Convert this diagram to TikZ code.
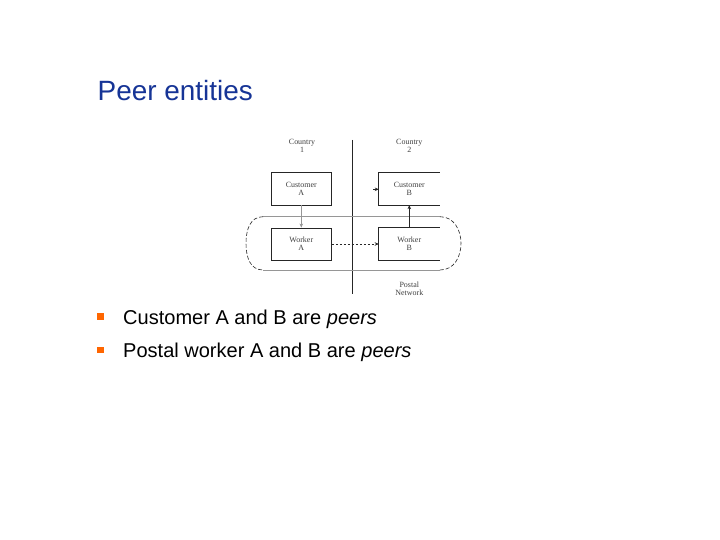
\documentclass[tikz,border=0pt]{standalone}
\usepackage{fontspec}
\setmainfont{Liberation Sans}
\newfontfamily\diagfont{Liberation Serif}
\usetikzlibrary{arrows.meta}
\definecolor{titleblue}{RGB}{22,52,150}
\definecolor{bulletorange}{RGB}{255,102,0}
\definecolor{lgray}{RGB}{150,150,150}
\begin{document}
\begin{tikzpicture}[x=1bp,y=-1bp,
  box/.style={minimum width=60.7bp, minimum height=32.3bp, inner sep=0, font=\diagfont\fontsize{8}{8}\selectfont, align=center, text=black!75},
  boxline/.style={line width=0.6bp, draw=black!85},
  lbl/.style={inner sep=0, font=\diagfont\fontsize{8}{6.5}\selectfont, align=center, text=black!75},
  arr/.style={-{Stealth[length=4bp,width=3.5bp]}, line width=0.6bp},
  bulletsq/.style={fill=bulletorange, minimum size=6.5bp, inner sep=0},
  bodytext/.style={anchor=base west, inner sep=0, font=\fontsize{20.1}{24}\selectfont}]
\useasboundingbox (0,0) rectangle (720,540);
\fill[white] (0,0) rectangle (720,540);
\node[anchor=base west, inner sep=0, text=titleblue, font=\fontsize{28}{33}\selectfont] (title) at (97.5,101) {Peer entities};
% diagram
\coordinate (vtop) at (352.7,140);
\coordinate (vbot) at (352.7,294);
\draw[line width=0.6bp, black!85] (vtop) -- (vbot);
\node[lbl] (c1) at (302,146) {Country\\1};
\node[lbl] (c2) at (409.3,146) {Country\\2};
\node[lbl, font=\diagfont\fontsize{8}{8}\selectfont] (pn) at (409.3,289) {Postal\\Network};
% stadium
\draw[line width=0.6bp, lgray] (263,216.7) -- (440,216.7) (263,270) -- (440,270);
\draw[line width=0.6bp, black!85, dash pattern=on 4bp off 2bp]
  (263,216.7) .. controls (250,216.7) and (246,230) .. (246,243.3)
  .. controls (246,257) and (250,270) .. (263,270);
\draw[line width=0.6bp, black!85, dash pattern=on 4bp off 2bp]
  (440,216.7) .. controls (454,216.7) and (461,230) .. (461,243.3)
  .. controls (461,257) and (454,270) .. (440,270);
% boxes
\node[box, draw, boxline, fill=white] (custA) at (301.3,188.8) {Customer\\A};
\node[box, draw, boxline, fill=white] (workA) at (301.3,244) {Worker\\A};
\node[box, fill=white] (custB) at (409.3,188.8) {Customer\\B};
\node[box, fill=white] (workB) at (409.3,244) {Worker\\B};
\draw[boxline] (custB.north east) -- (custB.north west) -- (custB.south west) -- (custB.south east);
\draw[boxline] (workB.north east) -- (workB.north west) -- (workB.south west) -- (workB.south east);
% arrows
\draw[arr, lgray] (custA) -- (workA);
\draw[arr, black!85, dash pattern=on 2.5bp off 1.5bp] (workA) -- (workB);
\draw[arr, black!85] (workB) -- (custB);
\coordinate (inB) at (373,189.3);
\draw[arr, black!85] (inB) -- (custB.west |- inB);
% bullets
\node[bulletsq] (b1) at (100.5,316.5) {};
\node[bulletsq] (b2) at (100.5,350) {};
\node[bodytext] (t1) at (123,324) {Customer A and B are \textit{peers}};
\node[bodytext] (t2) at (123,357.5) {Postal worker A and B are \textit{peers}};
\end{tikzpicture}
\end{document}
